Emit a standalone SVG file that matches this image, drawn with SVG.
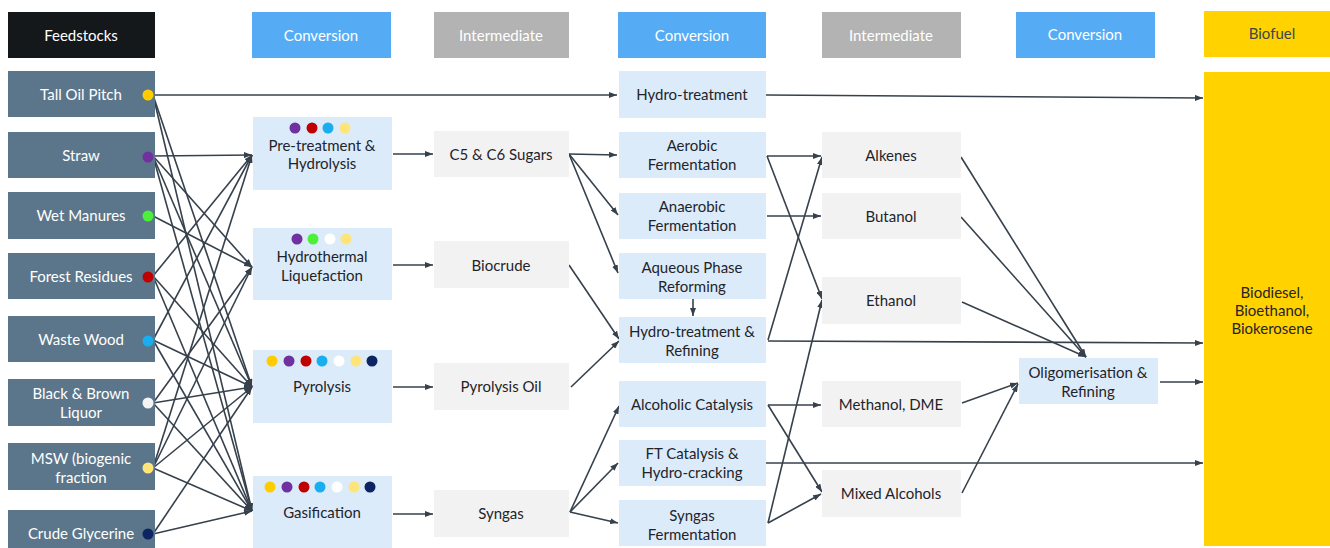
<svg xmlns="http://www.w3.org/2000/svg" width="1330" height="548" viewBox="0 0 1330 548">
  <defs>
    <marker id="arrow" viewBox="0 0 8 6" refX="8" refY="3" markerWidth="8" markerHeight="6" markerUnits="userSpaceOnUse" orient="auto">
      <path d="M0,0 L8,3 L0,6 z" fill="#36414c"/>
    </marker>
    <style>
      text { font-family: Lato, "Open Sans", "Liberation Sans", sans-serif; font-size: 15px; text-anchor: middle; }
      .hdr-dark { fill: #15181b; }
      .hdr-blue { fill: #55acf5; }
      .hdr-gray { fill: #b3b3b3; }
      .hdr-text { fill: #ffffff; }
      .feed { fill: #5b768b; }
      .feed-text { fill: #ffffff; }
      .conv { fill: #dcebf9; }
      .inter { fill: #f2f2f2; }
      .node-text { fill: #1f242a; }
      .fuel { fill: #ffd200; }
      .fuel-text { fill: #1f242a; }
      .edge { stroke: #36414c; stroke-width: 1.6; fill: none; marker-end: url(#arrow); }
    </style>
  </defs>
  <rect width="1330" height="548" fill="#ffffff"/>

  <!-- column headers -->
  <g id="headers">
    <rect class="hdr-dark" x="8" y="12" width="147" height="46"/>
    <text class="hdr-text" x="81" y="41">Feedstocks</text>
    <rect class="hdr-blue" x="252" y="12" width="139" height="46"/>
    <text class="hdr-text" x="321" y="41">Conversion</text>
    <rect class="hdr-gray" x="434" y="12" width="135" height="46"/>
    <text class="hdr-text" x="501" y="41">Intermediate</text>
    <rect class="hdr-blue" x="618" y="12" width="148" height="46"/>
    <text class="hdr-text" x="692" y="41">Conversion</text>
    <rect class="hdr-gray" x="822" y="12" width="139" height="46"/>
    <text class="hdr-text" x="891" y="41">Intermediate</text>
    <rect class="hdr-blue" x="1016" y="12" width="139" height="46"/>
    <text class="hdr-text" x="1085" y="40">Conversion</text>
    <rect class="fuel" x="1204" y="11" width="126" height="46"/>
    <text x="1272" y="39" style="fill:#3b4650">Biofuel</text>
  </g>

  <!-- connectors -->
  <g id="connectors">
    <!-- feedstocks to first conversion -->
    <path class="edge" d="M153,95 L617,95"/>
    <path class="edge" d="M153,95 L252,387"/>
    <path class="edge" d="M153,95 L252,511"/>

    <path class="edge" d="M153,156 L252,155"/>
    <path class="edge" d="M153,156 L252,267"/>
    <path class="edge" d="M153,156 L252,387"/>
    <path class="edge" d="M153,156 L252,511"/>

    <path class="edge" d="M153,216 L252,267"/>

    <path class="edge" d="M153,276 L252,155"/>
    <path class="edge" d="M153,276 L252,387"/>
    <path class="edge" d="M153,276 L252,511"/>

    <path class="edge" d="M153,340 L252,155"/>
    <path class="edge" d="M153,340 L252,387"/>
    <path class="edge" d="M153,340 L252,511"/>

    <path class="edge" d="M153,403 L252,267"/>
    <path class="edge" d="M153,403 L252,387"/>
    <path class="edge" d="M153,403 L252,511"/>

    <path class="edge" d="M153,468 L252,155"/>
    <path class="edge" d="M153,468 L252,267"/>
    <path class="edge" d="M153,468 L252,387"/>
    <path class="edge" d="M153,468 L252,511"/>

    <path class="edge" d="M153,534 L252,387"/>
    <path class="edge" d="M153,534 L252,511"/>

    <!-- first conversion to intermediates -->
    <path class="edge" d="M393,154 L433,154"/>
    <path class="edge" d="M393,265 L433,265"/>
    <path class="edge" d="M393,387 L433,387"/>
    <path class="edge" d="M393,514 L433,514"/>

    <!-- intermediates to second conversion -->
    <path class="edge" d="M569,154 L617,155"/>
    <path class="edge" d="M569,154 L618,215"/>
    <path class="edge" d="M569,154 L618,273"/>
    <path class="edge" d="M569,265 L619,339"/>
    <path class="edge" d="M571,387 L619,341"/>
    <path class="edge" d="M693,299 L693,316"/>
    <path class="edge" d="M570,512 L619,406"/>
    <path class="edge" d="M570,512 L618,463"/>
    <path class="edge" d="M570,512 L618,523"/>

    <!-- second conversion onward -->
    <path class="edge" d="M766,95 L1203,98"/>
    <path class="edge" d="M767,156 L821,156"/>
    <path class="edge" d="M767,156 L822,299"/>
    <path class="edge" d="M767,216 L821,216"/>
    <path class="edge" d="M768,340 L822,157"/>
    <path class="edge" d="M768,341 L1203,343"/>
    <path class="edge" d="M768,405 L821,405"/>
    <path class="edge" d="M768,405 L822,492"/>
    <path class="edge" d="M766,463 L1203,463"/>
    <path class="edge" d="M768,523 L822,300"/>
    <path class="edge" d="M768,523 L821,494"/>

    <!-- second intermediates to oligomerisation -->
    <path class="edge" d="M961,157 L1086,357"/>
    <path class="edge" d="M961,217 L1086,357"/>
    <path class="edge" d="M962,302 L1086,357"/>
    <path class="edge" d="M962,403 L1018,383"/>
    <path class="edge" d="M962,493 L1018,384"/>
    <path class="edge" d="M1160,382 L1203,382"/>
  </g>

  <!-- feedstocks -->
  <g id="feed-tall-oil">
    <rect class="feed" x="8" y="71" width="147" height="46"/>
    <text class="feed-text" x="81" y="100">Tall Oil Pitch</text>
    <circle cx="148" cy="95" r="5.5" fill="#ffcc00"/>
  </g>
  <g id="feed-straw">
    <rect class="feed" x="8" y="132" width="147" height="46"/>
    <text class="feed-text" x="81" y="161">Straw</text>
    <circle cx="148" cy="157" r="5.5" fill="#7030a0"/>
  </g>
  <g id="feed-wet-manures">
    <rect class="feed" x="8" y="192" width="147" height="47"/>
    <text class="feed-text" x="81" y="221">Wet Manures</text>
    <circle cx="148" cy="216" r="5.5" fill="#4cef3a"/>
  </g>
  <g id="feed-forest-residues">
    <rect class="feed" x="8" y="253" width="147" height="46"/>
    <text class="feed-text" x="81" y="282">Forest Residues</text>
    <circle cx="148" cy="277" r="5.5" fill="#c00000"/>
  </g>
  <g id="feed-waste-wood">
    <rect class="feed" x="8" y="316" width="147" height="46"/>
    <text class="feed-text" x="81" y="345">Waste Wood</text>
    <circle cx="148" cy="341" r="5.5" fill="#18aef0"/>
  </g>
  <g id="feed-liquor">
    <rect class="feed" x="8" y="379" width="147" height="47"/>
    <text class="feed-text" x="81" y="399">Black &amp; Brown</text>
    <text class="feed-text" x="81" y="418">Liquor</text>
    <circle cx="148" cy="403" r="5.5" fill="#f4f4f4"/>
  </g>
  <g id="feed-msw">
    <rect class="feed" x="8" y="443" width="147" height="47"/>
    <text class="feed-text" x="81" y="464">MSW (biogenic</text>
    <text class="feed-text" x="81" y="483">fraction</text>
    <circle cx="148" cy="468" r="5.5" fill="#ffe47a"/>
  </g>
  <g id="feed-glycerine">
    <rect class="feed" x="8" y="510" width="147" height="46"/>
    <text class="feed-text" x="81" y="539">Crude Glycerine</text>
    <circle cx="148" cy="534" r="5.5" fill="#0c2461"/>
  </g>

  <!-- first conversion -->
  <g id="conv-pretreatment">
    <rect class="conv" x="253" y="117" width="139" height="73"/>
    <circle cx="295" cy="128" r="5.5" fill="#7030a0"/>
    <circle cx="312" cy="128" r="5.5" fill="#c00000"/>
    <circle cx="328" cy="128" r="5.5" fill="#18aef0"/>
    <circle cx="345" cy="128" r="5.5" fill="#ffe47a"/>
    <text class="node-text" x="322" y="151">Pre-treatment &amp;</text>
    <text class="node-text" x="322" y="169">Hydrolysis</text>
  </g>
  <g id="conv-htl">
    <rect class="conv" x="253" y="228" width="139" height="72"/>
    <circle cx="297" cy="239" r="5.5" fill="#7030a0"/>
    <circle cx="313" cy="239" r="5.5" fill="#4cef3a"/>
    <circle cx="330" cy="239" r="5.5" fill="#ffffff"/>
    <circle cx="346" cy="239" r="5.5" fill="#ffe47a"/>
    <text class="node-text" x="322" y="262">Hydrothermal</text>
    <text class="node-text" x="322" y="281">Liquefaction</text>
  </g>
  <g id="conv-pyrolysis">
    <rect class="conv" x="253" y="350" width="139" height="73"/>
    <circle cx="272" cy="361" r="5.5" fill="#ffcc00"/>
    <circle cx="289" cy="361" r="5.5" fill="#7030a0"/>
    <circle cx="306" cy="361" r="5.5" fill="#c00000"/>
    <circle cx="322" cy="361" r="5.5" fill="#18aef0"/>
    <circle cx="339" cy="361" r="5.5" fill="#ffffff"/>
    <circle cx="356" cy="361" r="5.5" fill="#ffe47a"/>
    <circle cx="372" cy="361" r="5.5" fill="#0c2461"/>
    <text class="node-text" x="322" y="392">Pyrolysis</text>
  </g>
  <g id="conv-gasification">
    <rect class="conv" x="253" y="476" width="139" height="72"/>
    <circle cx="270" cy="487" r="5.5" fill="#ffcc00"/>
    <circle cx="287" cy="487" r="5.5" fill="#7030a0"/>
    <circle cx="304" cy="487" r="5.5" fill="#c00000"/>
    <circle cx="320" cy="487" r="5.5" fill="#18aef0"/>
    <circle cx="337" cy="487" r="5.5" fill="#ffffff"/>
    <circle cx="354" cy="487" r="5.5" fill="#ffe47a"/>
    <circle cx="370" cy="487" r="5.5" fill="#0c2461"/>
    <text class="node-text" x="322" y="518">Gasification</text>
  </g>

  <!-- first intermediates -->
  <g id="int-sugars">
    <rect class="inter" x="434" y="131" width="135" height="46"/>
    <text class="node-text" x="501" y="160">C5 &amp; C6 Sugars</text>
  </g>
  <g id="int-biocrude">
    <rect class="inter" x="434" y="241" width="135" height="47"/>
    <text class="node-text" x="501" y="271">Biocrude</text>
  </g>
  <g id="int-pyrolysis-oil">
    <rect class="inter" x="434" y="363" width="135" height="47"/>
    <text class="node-text" x="501" y="392">Pyrolysis Oil</text>
  </g>
  <g id="int-syngas">
    <rect class="inter" x="434" y="490" width="135" height="47"/>
    <text class="node-text" x="501" y="519">Syngas</text>
  </g>

  <!-- second conversion -->
  <g id="conv-hydrotreatment">
    <rect class="conv" x="619" y="71" width="147" height="47"/>
    <text class="node-text" x="692" y="100">Hydro-treatment</text>
  </g>
  <g id="conv-aerobic">
    <rect class="conv" x="619" y="132" width="147" height="46"/>
    <text class="node-text" x="692" y="151">Aerobic</text>
    <text class="node-text" x="692" y="170">Fermentation</text>
  </g>
  <g id="conv-anaerobic">
    <rect class="conv" x="619" y="193" width="147" height="46"/>
    <text class="node-text" x="692" y="212">Anaerobic</text>
    <text class="node-text" x="692" y="231">Fermentation</text>
  </g>
  <g id="conv-aqueous">
    <rect class="conv" x="619" y="253" width="147" height="46"/>
    <text class="node-text" x="692" y="273">Aqueous Phase</text>
    <text class="node-text" x="692" y="292">Reforming</text>
  </g>
  <g id="conv-ht-refining">
    <rect class="conv" x="619" y="317" width="147" height="46"/>
    <text class="node-text" x="692" y="337">Hydro-treatment &amp;</text>
    <text class="node-text" x="692" y="356">Refining</text>
  </g>
  <g id="conv-alcoholic">
    <rect class="conv" x="619" y="381" width="147" height="46"/>
    <text class="node-text" x="692" y="410">Alcoholic Catalysis</text>
  </g>
  <g id="conv-ft">
    <rect class="conv" x="619" y="440" width="147" height="46"/>
    <text class="node-text" x="692" y="459">FT Catalysis &amp;</text>
    <text class="node-text" x="692" y="478">Hydro-cracking</text>
  </g>
  <g id="conv-syngas-fermentation">
    <rect class="conv" x="619" y="500" width="147" height="46"/>
    <text class="node-text" x="692" y="521">Syngas</text>
    <text class="node-text" x="692" y="540">Fermentation</text>
  </g>

  <!-- second intermediates -->
  <g id="int-alkenes">
    <rect class="inter" x="822" y="132" width="139" height="46"/>
    <text class="node-text" x="891" y="161">Alkenes</text>
  </g>
  <g id="int-butanol">
    <rect class="inter" x="822" y="193" width="139" height="46"/>
    <text class="node-text" x="891" y="222">Butanol</text>
  </g>
  <g id="int-ethanol">
    <rect class="inter" x="822" y="277" width="139" height="47"/>
    <text class="node-text" x="891" y="306">Ethanol</text>
  </g>
  <g id="int-methanol">
    <rect class="inter" x="822" y="381" width="139" height="46"/>
    <text class="node-text" x="891" y="410">Methanol, DME</text>
  </g>
  <g id="int-mixed-alcohols">
    <rect class="inter" x="822" y="470" width="139" height="47"/>
    <text class="node-text" x="891" y="499">Mixed Alcohols</text>
  </g>

  <!-- third conversion -->
  <g id="conv-oligomerisation">
    <rect class="conv" x="1019" y="358" width="139" height="46"/>
    <text class="node-text" x="1088" y="378">Oligomerisation &amp;</text>
    <text class="node-text" x="1088" y="397">Refining</text>
  </g>

  <!-- biofuel -->
  <g id="biofuel">
    <rect class="fuel" x="1204" y="72" width="126" height="474"/>
    <text class="fuel-text" x="1272" y="298">Biodiesel,</text>
    <text class="fuel-text" x="1272" y="316">Bioethanol,</text>
    <text class="fuel-text" x="1272" y="334">Biokerosene</text>
  </g>
</svg>
